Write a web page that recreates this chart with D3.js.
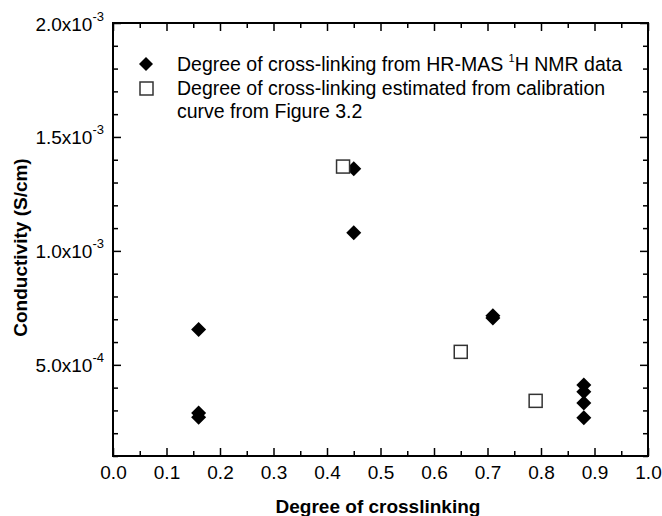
<!DOCTYPE html>
<html><head><meta charset="utf-8">
<script src="https://cdn.jsdelivr.net/npm/d3@7"></script>
<style>
html,body{margin:0;padding:0;background:#fff;}
svg text{font-family:"Liberation Sans",Arial,sans-serif;}
</style></head>
<body>
<svg id="chart" width="662" height="516"></svg>
<script>
// ---- data ----
const nmrX = [0.16, 0.16, 0.16, 0.45, 0.45, 0.71, 0.71, 0.88, 0.88, 0.88, 0.88];
const nmrY = [6.55e-4, 2.89e-4, 2.70e-4, 1.36e-3, 1.08e-3, 7.15e-4, 7.05e-4, 4.12e-4, 3.82e-4, 3.33e-4, 2.68e-4];
const calX = [0.43, 0.65, 0.79];
const calY = [1.37e-3, 5.57e-4, 3.42e-4];
const xMajor = [0, 0.1, 0.2, 0.3, 0.4, 0.5, 0.6, 0.7, 0.8, 0.9, 1.0];
const xMinor = [0.05, 0.15, 0.25, 0.35, 0.45, 0.55, 0.65, 0.75, 0.85, 0.95];
const xTickLabels = ["0.0","0.1","0.2","0.3","0.4","0.5","0.6","0.7","0.8","0.9","1.0"];
const yMajor = [5e-4, 1e-3, 1.5e-3, 2e-3];
const yMantissa = ["5.0", "1.0", "1.5", "2.0"];
const yExponent = ["-4", "-3", "-3", "-3"];
const yMinor = [1e-4, 2e-4, 3e-4, 4e-4, 6e-4, 7e-4, 8e-4, 9e-4, 1.1e-3, 1.2e-3, 1.3e-3, 1.4e-3, 1.6e-3, 1.7e-3, 1.8e-3, 1.9e-3];
const legendLabels = ["Degree of cross-linking from HR-MAS ", "Degree of cross-linking estimated from calibration", "curve from Figure 3.2"];
const xTitle = "Degree of crosslinking";
const yTitle = "Conductivity (S/cm)";

// ---- layout ----
const L = 113, R = 648, T = 23, B = 456;
const FS = 19, LFS = 19.5;
const svg = d3.select("#chart");
const x = d3.scaleLinear().domain([0, 1]).range([L, R]);
const y = d3.scaleLinear().domain([1e-4, 2e-3]).range([B, T]);

const majorLen = 8, minorLen = 5;
function styleAxis(g) {
  g.select(".domain").remove();
  g.selectAll(".tick line").attr("stroke", "#000").attr("stroke-width", 1.5);
}
// bottom
const gB = svg.append("g").attr("transform", `translate(0,${B})`);
gB.call(d3.axisBottom(x).tickValues(xMajor).tickSize(-majorLen).tickPadding(10).tickFormat((d, i) => xTickLabels[i]));
gB.append("g").call(d3.axisBottom(x).tickValues(xMinor).tickSize(-minorLen).tickFormat("")).call(styleAxis);
styleAxis(gB);
gB.selectAll("text").attr("font-size", FS).attr("fill", "#000").attr("font-family", "Liberation Sans, Arial, sans-serif");
// top
const gT = svg.append("g").attr("transform", `translate(0,${T})`);
gT.call(d3.axisTop(x).tickValues(xMajor).tickSize(-majorLen).tickFormat("")).call(styleAxis);
gT.append("g").call(d3.axisTop(x).tickValues(xMinor).tickSize(-minorLen).tickFormat("")).call(styleAxis);
// left
const gL = svg.append("g").attr("transform", `translate(${L},0)`);
gL.call(d3.axisLeft(y).tickValues(yMajor).tickSize(-majorLen).tickFormat(""));
styleAxis(gL);
gL.append("g").call(d3.axisLeft(y).tickValues(yMinor).tickSize(-minorLen).tickFormat("")).call(styleAxis);
gL.selectAll(".tick").filter(d => yMajor.includes(d)).each(function(d) {
  const i = yMajor.indexOf(d);
  const t = d3.select(this).append("text").attr("x", -9).attr("y", 7)
    .attr("text-anchor", "end").attr("font-size", FS).attr("fill", "#000")
    .attr("font-family", "Liberation Sans, Arial, sans-serif");
  t.append("tspan").text(yMantissa[i] + "x10");
  t.append("tspan").attr("font-size", 13).attr("dy", -10).text(yExponent[i]);
});
// right
const gR = svg.append("g").attr("transform", `translate(${R},0)`);
gR.call(d3.axisRight(y).tickValues(yMajor).tickSize(-majorLen).tickFormat("")).call(styleAxis);
gR.append("g").call(d3.axisRight(y).tickValues(yMinor).tickSize(-minorLen).tickFormat("")).call(styleAxis);

// frame
svg.append("rect").attr("x", L).attr("y", T).attr("width", R - L).attr("height", B - T)
  .attr("fill", "none").attr("stroke", "#000").attr("stroke-width", 2);

// ---- marks ----
const dsize = 7.5;
function diamondPath(cx, cy, s) { return `M${cx},${cy - s}L${cx + s},${cy}L${cx},${cy + s}L${cx - s},${cy}Z`; }
svg.append("g").selectAll("path").data(nmrX.map((v, i) => [v, nmrY[i]])).join("path")
  .attr("d", d => diamondPath(x(d[0]), y(d[1]), dsize)).attr("fill", "#000");
const sq = 13;
svg.append("g").selectAll("rect").data(calX.map((v, i) => [v, calY[i]])).join("rect")
  .attr("x", d => x(d[0]) - sq / 2).attr("y", d => y(d[1]) - sq / 2)
  .attr("width", sq).attr("height", sq).attr("fill", "#fff").attr("stroke", "#333").attr("stroke-width", 1.5);

// ---- legend ----
const lg = svg.append("g");
lg.append("path").attr("d", diamondPath(146, 64, 7)).attr("fill", "#000");
lg.append("rect").attr("x", 140).attr("y", 82).attr("width", 13).attr("height", 13).attr("fill", "#fff").attr("stroke", "#333").attr("stroke-width", 1.5);
const t1 = lg.append("text").attr("x", 177).attr("y", 71).attr("font-size", LFS).attr("fill", "#000");
t1.append("tspan").text(legendLabels[0]);
t1.append("tspan").attr("font-size", 11).attr("dy", -9).text("1");
t1.append("tspan").attr("dy", 9).text("H NMR data");
lg.append("text").attr("x", 177).attr("y", 95).attr("font-size", LFS).attr("fill", "#000").text(legendLabels[1]);
lg.append("text").attr("x", 177).attr("y", 118).attr("font-size", LFS).attr("fill", "#000").text(legendLabels[2]);

// ---- titles ----
svg.append("text").attr("x", 378).attr("y", 513).attr("text-anchor", "middle")
  .attr("font-size", FS).attr("font-weight", "bold").attr("fill", "#000").text(xTitle);
svg.append("text").attr("transform", `translate(27,${(T + B) / 2 + 8}) rotate(-90)`).attr("text-anchor", "middle")
  .attr("font-size", FS).attr("font-weight", "bold").attr("fill", "#000").text(yTitle);
</script>
</body></html>
